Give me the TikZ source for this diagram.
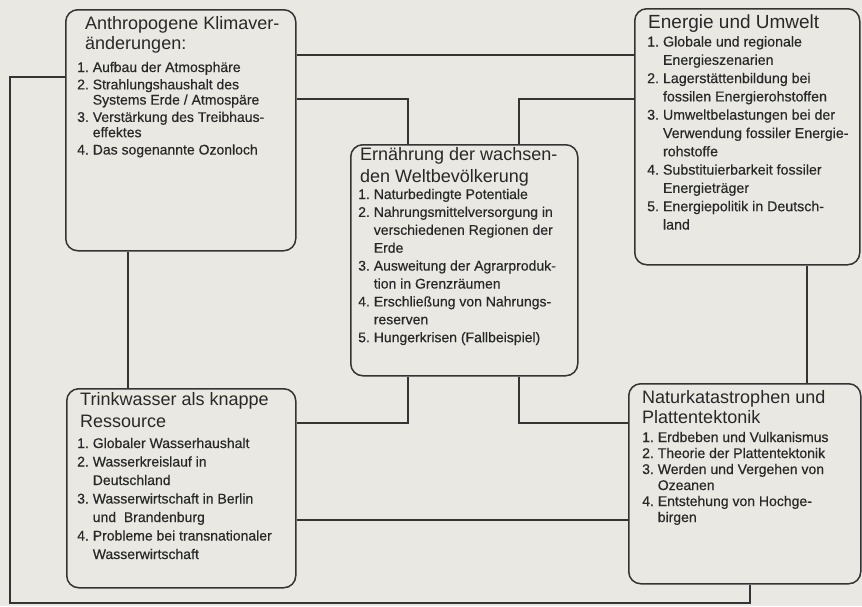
\documentclass[tikz,border=0pt]{standalone}
\usepackage{fontspec}
\setmainfont{Liberation Sans}
\newfontfamily\itemfont[FakeBold=0.4]{Liberation Sans}
\definecolor{paper}{RGB}{234,232,226}
\definecolor{linec}{RGB}{52,52,52}
\definecolor{ink}{RGB}{40,40,40}
\newcommand\blk[3]{{\fontsize{#1}{#2}\selectfont\begin{tabular}[t]{@{}l@{}}#3\end{tabular}}}
\newcommand\itm[3]{{\itemfont\fontsize{#1}{#2}\selectfont\begin{tabular}[t]{@{}l@{\hspace{0.28em}}l@{}}#3\end{tabular}}}
\begin{document}
\begin{tikzpicture}[x=1pt,y=-1pt,
  box/.style={draw=linec, line width=1.5pt, rounded corners=12pt, fill=paper, anchor=north west, inner sep=0pt},
  conn/.style={draw=linec, line width=1.7pt},
  txt/.style={anchor=base west, inner sep=0pt, text=ink}]
\fill[paper] (0,0) rectangle (862,606);
\useasboundingbox (0,0) rectangle (862,606);

% boxes
\node[box, minimum width=230pt, minimum height=241pt] (A) at (65,9) {};
\node[box, minimum width=225pt, minimum height=256pt] (E) at (634,8) {};
\node[box, minimum width=227pt, minimum height=231pt] (M) at (350,144) {};
\node[box, minimum width=229pt, minimum height=199pt] (T) at (66,388) {};
\node[box, minimum width=232pt, minimum height=200pt] (N) at (628,383) {};

% connectors
\coordinate (L1) at (10,77);
\coordinate (L2) at (10,603);
\draw[conn] (A.east |- 0,55) -- (E.west |- 0,55);
\draw[conn] (A.east |- 0,99) -| (M.north -| 408,0);
\draw[conn] (E.west |- 0,99) -| (M.north -| 519,0);
\draw[conn] (M.south -| 408,0) |- (T.east |- 0,423);
\draw[conn] (M.south -| 519,0) |- (N.west |- 0,423);
\draw[conn] (T.east |- 0,520) -- (N.west |- 0,520);
\draw[conn] (A.south -| 128,0) -- (T.north -| 128,0);
\draw[conn] (E.south -| 807,0) -- (N.north -| 807,0);
\draw[conn] (A.west |- L1) -- (L1) -- (L2) -| (N.south -| 750,0);

% texts
\node[txt] (At) at (85,29) {\blk{18}{20.5}{Anthropogene Klimaver-\\änderungen:}};
\node[txt] (Ai) at (77,72) {\itm{14}{15.3}{1. & Aufbau der Atmosphäre\\[2pt]
2. & Strahlungshaushalt des\\ & Systems Erde / Atmospäre\\[2pt]
3. & Verstärkung des Treibhaus-\\ & effektes\\[2pt]
4. & Das sogenannte Ozonloch}};

\node[txt] (Et) at (648,28) {\blk{19}{20.5}{Energie und Umwelt}};
\node[txt] (Ei) at (647,46.5) {\itm{14.2}{18.3}{1. & Globale und regionale\\ & Energieszenarien\\
2. & Lagerstättenbildung bei\\ & fossilen Energierohstoffen\\
3. & Umweltbelastungen bei der\\ & Verwendung fossiler Energie-\\ & rohstoffe\\
4. & Substituierbarkeit fossiler\\ & Energieträger\\
5. & Energiepolitik in Deutsch-\\ & land}};

\node[txt] (Mt) at (360,160.5) {\blk{18}{22}{Ernährung der wachsen-\\den Weltbevölkerung}};
\node[txt] (Mi) at (358,199) {\itm{14}{17.9}{1. & Naturbedingte Potentiale\\
2. & Nahrungsmittelversorgung in\\ & verschiedenen Regionen der\\ & Erde\\
3. & Ausweitung der Agrarproduk-\\ & tion in Grenzräumen\\
4. & Erschließung von Nahrungs-\\ & reserven\\
5. & Hungerkrisen (Fallbeispiel)}};

\node[txt] (Tt) at (80,405.5) {\blk{18}{22}{Trinkwasser als knappe\\Ressource}};
\node[txt] (Ti) at (77,448) {\itm{14}{18.5}{1. & Globaler Wasserhaushalt\\
2. & Wasserkreislauf in\\ & Deutschland\\
3. & Wasserwirtschaft in Berlin\\ & und\ \ Brandenburg\\
4. & Probleme bei transnationaler\\ & Wasserwirtschaft}};

\node[txt] (Nt) at (642,403.5) {\blk{18}{20}{Naturkatastrophen und\\Plattentektonik}};
\node[txt] (Ni) at (642,442) {\itm{14}{16}{1. & Erdbeben und Vulkanismus\\
2. & Theorie der Plattentektonik\\
3. & Werden und Vergehen von\\ & Ozeanen\\
4. & Entstehung von Hochge-\\ & birgen}};
\end{tikzpicture}
\end{document}
